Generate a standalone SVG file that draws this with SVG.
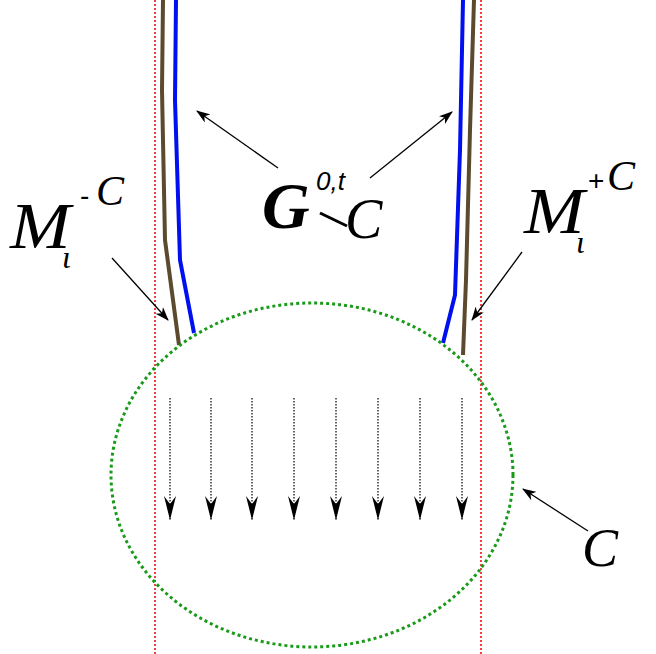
<svg xmlns="http://www.w3.org/2000/svg" width="656" height="654" viewBox="0 0 656 654">
<defs>
<marker id="a" markerWidth="14" markerHeight="10" refX="13" refY="5" orient="auto" markerUnits="userSpaceOnUse"><path d="M0,0 L14,5 L0,10 L4,5 Z" fill="#000"/></marker>
<marker id="b" markerWidth="12" markerHeight="24" refX="6" refY="24" orient="0" markerUnits="userSpaceOnUse"><path d="M0,0 L6,8 L12,0 L6,24 Z" fill="#000"/></marker>
</defs>
<style>
.ser{font-family:"Liberation Serif",serif;font-style:italic}
.ptr{stroke:#000;stroke-width:1.3;fill:none;marker-end:url(#a)}
.fl{stroke:#000;stroke-width:1.2;stroke-dasharray:1.5 1.5;marker-end:url(#b)}
</style>
<rect width="656" height="654" fill="#fff"/>
<g id="bounds" stroke="#e00" stroke-width="1.5" stroke-dasharray="2 2">
<line x1="155" y1="0" x2="155" y2="654"/><line x1="481" y1="0" x2="481" y2="654"/>
</g>
<g id="curves" fill="none" stroke-width="4">
<path d="M163,0 L162,90 L165,240 L179,345" stroke="#5c4a2e"/>
<path d="M176,0 L175,100 L180,260 L194,333" stroke="#0010ee"/>
<path d="M474,0 L470,130 L466,280 L463,355" stroke="#5c4a2e"/>
<path d="M463,0 L460,150 L455,295 L443,343" stroke="#0010ee"/>
</g>
<g id="C"><ellipse cx="312" cy="475" rx="201" ry="172" fill="none" stroke="#1a9a1a" stroke-width="3" stroke-dasharray="3 3"/></g>
<g id="connectors">
<line class="fl" x1="170" y1="398" x2="170" y2="520"/>
<line class="fl" x1="211" y1="398" x2="211" y2="520"/>
<line class="fl" x1="252" y1="398" x2="252" y2="520"/>
<line class="fl" x1="294" y1="398" x2="294" y2="520"/>
<line class="fl" x1="336" y1="398" x2="336" y2="520"/>
<line class="fl" x1="378" y1="398" x2="378" y2="520"/>
<line class="fl" x1="420" y1="398" x2="420" y2="520"/>
<line class="fl" x1="462" y1="398" x2="462" y2="520"/>
<line class="ptr" x1="278" y1="168" x2="197" y2="111"/>
<line class="ptr" x1="370" y1="178" x2="452" y2="112"/>
<line class="ptr" x1="112" y1="258" x2="168" y2="320"/>
<line class="ptr" x1="522" y1="252" x2="472" y2="320"/>
<line class="ptr" x1="588" y1="531" x2="523" y2="489"/>
<line x1="320" y1="213" x2="347" y2="226" stroke="#000" stroke-width="3"/>
</g>
<g id="labelMminus">
<text class="ser" font-size="66" transform="translate(10,248) scale(1.1,1)">M</text>
<text class="ser" x="62" y="268" font-size="32">ι</text>
<text x="80" y="205" font-family="Liberation Sans,sans-serif" font-size="28">-</text>
<text class="ser" x="96" y="205" font-size="42">C</text>
</g>
<g id="labelG">
<text class="ser" x="262" y="228" font-size="66" font-weight="bold">G</text>
<text x="316" y="190" font-family="Liberation Sans,sans-serif" font-style="italic" font-size="26">0,t</text>
<text class="ser" x="345" y="238" font-size="56">C</text>
</g>
<g id="labelMplus">
<text class="ser" font-size="66" transform="translate(524,233) scale(1.1,1)">M</text>
<text class="ser" x="576" y="253" font-size="32">ι</text>
<text x="588" y="190" font-family="Liberation Sans,sans-serif" font-size="28">+</text>
<text class="ser" x="607" y="190" font-size="42">C</text>
</g>
<g id="labelC"><text class="ser" x="582" y="566" font-size="54">C</text></g>
</svg>
